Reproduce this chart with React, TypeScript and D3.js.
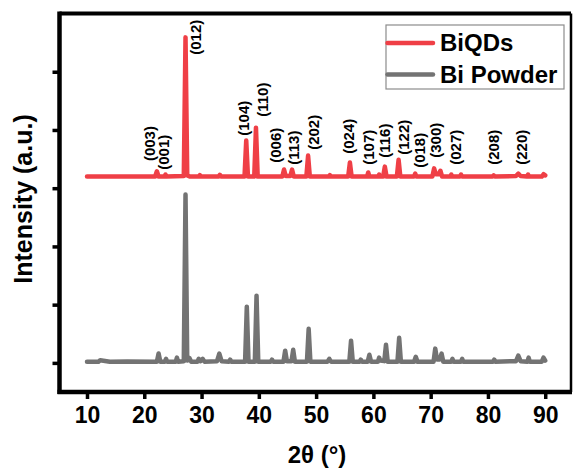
import * as d3 from 'd3';
import { useEffect, useRef } from 'react';

// Bi powder (gray) pattern, 2theta vs intensity (a.u.)
const bpTheta = [
  10, 12, 12.3, 14, 17, 22.2, 22.5, 22.8, 23.6, 23.8, 24.0, 25.5, 25.7, 25.9, 26.9, 27.2, 27.5, 27.9, 28.2,
  29.3, 29.5, 29.8, 30.2, 30.5, 32.7, 33.1, 33.5, 34.8, 35.0, 35.2, 37.6, 37.9, 38.2, 39.3, 39.6, 39.9,
  42.1, 42.3, 42.5, 44.3, 44.6, 44.9, 45.7, 46.0, 46.3, 48.4, 48.7, 49.0, 52.0, 52.3, 52.6, 55.8, 56.1,
  56.4, 57.6, 57.8, 58.0, 59.0, 59.3, 59.6, 60.8, 61.0, 61.2, 61.9, 62.2, 62.5, 64.2, 64.5, 64.8, 67.1,
  67.4, 67.7, 70.5, 70.8, 71.1, 71.6, 71.9, 72.2, 73.6, 73.8, 74.0, 75.3, 75.5, 75.7, 80.9, 81.1, 81.3,
  84.9, 85.3, 85.7, 86.9, 87.1, 87.3, 89.4, 89.7, 90,
];
const bpIntensity = [
  20, 20, 45, 20, 25, 20, 160, 20, 20, 70, 20, 20, 90, 20, 30, 2890, 40, 80, 20,
  20, 70, 30, 70, 20, 30, 160, 30, 20, 55, 20, 20, 965, 20, 20, 1155, 20,
  20, 55, 20, 20, 210, 30, 30, 225, 20, 20, 585, 20, 20, 70, 20, 20, 380,
  20, 20, 55, 20, 20, 140, 20, 20, 90, 40, 30, 310, 20, 20, 430, 20, 20,
  105, 20, 20, 245, 60, 60, 160, 20, 20, 70, 20, 20, 70, 20, 20, 55, 20,
  30, 125, 30, 20, 90, 20, 20, 90, 40,
];

// BiQDs (red) pattern, offset above the powder
const qdTheta = [
  10, 14, 18, 21.9, 22.2, 22.5, 23.5, 23.7, 23.9, 26.9, 27.2, 27.5, 28.0, 29.5, 29.7, 29.9, 33.0, 33.2,
  33.4, 37.5, 37.8, 38.1, 39.2, 39.5, 39.8, 44.1, 44.4, 44.7, 45.5, 45.8, 46.1, 48.3, 48.6, 48.9, 52.2,
  52.4, 52.6, 55.6, 55.9, 56.2, 58.9, 59.1, 59.3, 60.8, 61.0, 61.2, 61.7, 62.0, 62.3, 64.1, 64.4, 64.7,
  67.1, 67.3, 67.5, 70.3, 70.6, 70.9, 71.4, 71.7, 72.0, 73.4, 73.6, 73.8, 75.1, 75.3, 75.5, 80.8, 81.0,
  81.2, 84.9, 85.3, 85.7, 86.8, 87.0, 87.2, 89.4, 89.7, 90,
];
const qdIntensity = [
  3200, 3200, 3200, 3200, 3290, 3200, 3200, 3235, 3200, 3210, 5590, 3220, 3200, 3200, 3225, 3200, 3200, 3230,
  3200, 3200, 3820, 3200, 3200, 4040, 3200, 3200, 3320, 3210, 3210, 3320, 3200, 3200, 3560, 3200, 3200,
  3225, 3200, 3200, 3440, 3200, 3200, 3270, 3200, 3200, 3235, 3200, 3200, 3370, 3200, 3200, 3490, 3200,
  3200, 3250, 3200, 3200, 3340, 3240, 3240, 3300, 3200, 3200, 3235, 3200, 3200, 3235, 3200, 3200, 3220,
  3200, 3210, 3250, 3210, 3200, 3235, 3200, 3200, 3240, 3220,
];

// Miller index labels, placed at (2theta, intensity) of their lower end
const hklLabels = ['(003)', '(001)', '(012)', '(104)', '(110)', '(006)', '(113)', '(202)', '(024)',
  '(107)', '(116)', '(122)', '(018)', '(300)', '(027)', '(208)', '(220)'];
const hklTheta = [20.93, 23.3, 28.95, 37.33, 40.6, 42.91, 46.05, 49.53, 55.7,
  59.13, 62.04, 65.24, 68.02, 70.93, 74.42, 80.92, 85.93];
const hklLevel = [3465, 3316, 5292, 3900, 4226, 3436, 3402, 3659, 3590,
  3402, 3522, 3574, 3350, 3522, 3402, 3402, 3402];

const xTicks = [10, 20, 30, 40, 50, 60, 70, 80, 90];
const yTicks = [0, 1000, 2000, 3000, 4000, 5000];

const series = [
  { name: 'BiQDs', theta: qdTheta, intensity: qdIntensity, color: '#ef3f46' },
  { name: 'Bi Powder', theta: bpTheta, intensity: bpIntensity, color: '#737373' },
];

const FONT = "'Liberation Sans', Arial, sans-serif";

const XrdChart = () => {
  const ref = useRef<SVGSVGElement | null>(null);

  useEffect(() => {
    const svg = d3.select(ref.current);
    svg.selectAll('*').remove();

    const left = 59.5, right = 571, top = 13.5, bottom = 392;

    const x = d3.scaleLinear().domain([5.2, 94.5]).range([left, right]);
    const y = d3.scaleLinear().domain([-500, 6000]).range([bottom, top]);

    // frame
    svg.append('line').attr('x1', left).attr('x2', right).attr('y1', top).attr('y2', top)
      .attr('stroke', '#000').attr('stroke-width', 4);
    svg.append('line').attr('x1', right).attr('x2', right).attr('y1', top).attr('y2', bottom)
      .attr('stroke', '#000').attr('stroke-width', 2.5);

    // x axis
    const xAxis = svg.append('g')
      .attr('transform', `translate(0, ${bottom})`)
      .call(d3.axisBottom(x).tickValues(xTicks).tickSize(7).tickPadding(8).tickSizeOuter(0));
    xAxis.select('.domain').attr('stroke', '#000').attr('stroke-width', 4.5)
      .attr('d', `M${left - 2},0H${right + 1}`);
    xAxis.selectAll('.tick line').attr('stroke', '#000').attr('stroke-width', 3.5);
    xAxis.selectAll('.tick text')
      .attr('fill', '#000')
      .style('font-family', FONT)
      .style('font-weight', 'bold')
      .style('font-size', '23px');

    // y axis (no tick labels)
    const yAxis = svg.append('g')
      .attr('transform', `translate(${left}, 0)`)
      .call(d3.axisLeft(y).tickValues(yTicks).tickSize(7).tickFormat(() => '').tickSizeOuter(0));
    yAxis.select('.domain').attr('stroke', '#000').attr('stroke-width', 4.5)
      .attr('d', `M0,${top - 2}V${bottom + 2}`);
    yAxis.selectAll('.tick line').attr('stroke', '#000').attr('stroke-width', 3.5);

    // patterns
    const line = d3.line<[number, number]>()
      .x((d) => x(d[0]))
      .y((d) => y(d[1]));

    series.slice().reverse().forEach((s) => {
      const pts = s.theta.map((t, i) => [t, s.intensity[i]] as [number, number]);
      svg.append('path')
        .datum(pts)
        .attr('d', line)
        .attr('fill', 'none')
        .attr('stroke', s.color)
        .attr('stroke-width', 4.5)
        .attr('stroke-linejoin', 'round')
        .attr('stroke-linecap', 'round');
    });

    // hkl labels
    svg.append('g')
      .selectAll('text')
      .data(hklLabels)
      .join('text')
      .attr('transform', (d, i) => `translate(${x(hklTheta[i])}, ${y(hklLevel[i])}) rotate(-90)`)
      .attr('dy', '0.36em')
      .attr('text-anchor', 'start')
      .style('font-family', FONT)
      .style('font-weight', 'bold')
      .style('font-size', '15px')
      .attr('fill', '#000')
      .text((d) => d);

    // axis titles
    svg.append('text')
      .attr('transform', `translate(32, 199) rotate(-90)`)
      .attr('text-anchor', 'middle')
      .style('font-family', FONT)
      .style('font-weight', 'bold')
      .style('font-size', '25px')
      .attr('fill', '#000')
      .text('Intensity (a.u.)');

    svg.append('text')
      .attr('x', 317)
      .attr('y', 463)
      .attr('text-anchor', 'middle')
      .style('font-family', FONT)
      .style('font-weight', 'bold')
      .style('font-size', '24px')
      .attr('fill', '#000')
      .text('2θ (°)');

    // legend
    const lg = svg.append('g').attr('transform', 'translate(386, 25)');
    lg.append('rect')
      .attr('width', 178).attr('height', 64)
      .attr('fill', '#fff').attr('stroke', '#8c8c8c').attr('stroke-width', 1.2);
    series.forEach((s, i) => {
      const cy = 18 + i * 31.5;
      lg.append('line')
        .attr('x1', 1.5).attr('x2', 47).attr('y1', cy).attr('y2', cy)
        .attr('stroke', s.color).attr('stroke-width', 4.5).attr('stroke-linecap', 'round');
      lg.append('text')
        .attr('x', 54).attr('y', cy + 8)
        .style('font-family', FONT)
        .style('font-weight', 'bold')
        .style('font-size', '24px')
        .attr('fill', '#000')
        .text(s.name);
    });
  }, []);

  return (
    <svg ref={ref} width={574} height={469}
      style={{ position: 'absolute', left: 0, top: 0, background: '#fff' }} />
  );
};

export default function App() {
  return <XrdChart />;
}
